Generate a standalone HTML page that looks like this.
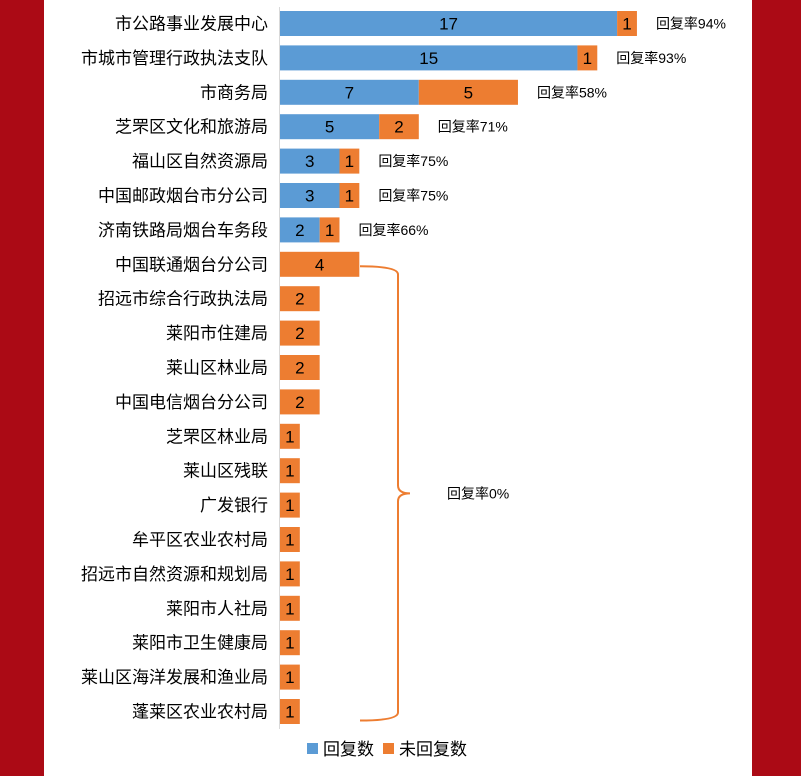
<!DOCTYPE html>
<html><head><meta charset="utf-8">
<style>
body{margin:0;width:801px;height:776px;overflow:hidden;background:#fff;font-family:"Liberation Sans","Noto Sans CJK SC",sans-serif;}
#wrap{position:relative;width:801px;height:776px;}
</style></head><body>
<div id="wrap">
<div style="position:absolute;left:0;top:0;width:44px;height:776px;background:#ab0a15"></div>
<div style="position:absolute;left:752px;top:0;width:49px;height:776px;background:#ab0a15"></div>
<svg id="chart" width="801" height="776" style="position:absolute;left:0;top:0"></svg>
</div>
<script>
const categories=["市公路事业发展中心","市城市管理行政执法支队","市商务局","芝罘区文化和旅游局","福山区自然资源局","中国邮政烟台市分公司","济南铁路局烟台车务段","中国联通烟台分公司","招远市综合行政执法局","莱阳市住建局","莱山区林业局","中国电信烟台分公司","芝罘区林业局","莱山区残联","广发银行","牟平区农业农村局","招远市自然资源和规划局","莱阳市人社局","莱阳市卫生健康局","莱山区海洋发展和渔业局","蓬莱区农业农村局"];
const replied=[17,15,7,5,3,3,2,0,0,0,0,0,0,0,0,0,0,0,0,0,0];
const unreplied=[1,1,5,2,1,1,1,4,2,2,2,2,1,1,1,1,1,1,1,1,1];
const rateLabels=["回复率94%","回复率93%","回复率58%","回复率71%","回复率75%","回复率75%","回复率66%"];
const zeroLabel="回复率0%";
const NS="http://www.w3.org/2000/svg";
const svg=document.getElementById('chart');
const x0=280,unit=19.83,y0=23.5,pitch=34.4,bh=25;
const xs=v=>x0+v*unit;
const yc=i=>y0+i*pitch;
function mk(t,a){const e=document.createElementNS(NS,t);for(const k in a)e.setAttribute(k,a[k]);svg.appendChild(e);return e;}
const ax=mk('line',{x1:279.5,x2:279.5,y1:7,y2:729,stroke:'#d9d9d9','stroke-width':1});


categories.forEach((c,i)=>{
  const t=mk('text',{x:268,y:yc(i)+6,'text-anchor':'end','font-size':17,fill:'#000'});
  t.textContent=c;
  
  
  if(replied[i]>0){
    const r=mk('rect',{x:xs(0),y:yc(i)-bh/2,width:xs(replied[i])-xs(0),height:bh,fill:'#5b9bd5'});
    
    
    const v=mk('text',{x:(xs(0)+xs(replied[i]))/2,y:yc(i)+6,'text-anchor':'middle','font-size':17,fill:'#000'});
    v.textContent=replied[i];
    
    
  }
  const s=replied[i],e=replied[i]+unreplied[i];
  const r2=mk('rect',{x:xs(s),y:yc(i)-bh/2,width:xs(e)-xs(s),height:bh,fill:'#ed7d31'});
  
  
  const v2=mk('text',{x:(xs(s)+xs(e))/2,y:yc(i)+6,'text-anchor':'middle','font-size':17,fill:'#000'});
  v2.textContent=unreplied[i];
  
  
  if(i<rateLabels.length){
    const rl=mk('text',{x:xs(e)+19,y:yc(i)+5,'font-size':14,fill:'#000'});
    rl.textContent=rateLabels[i];
    
    
  }
});
const first=rateLabels.length,last=categories.length-1;
const yt=yc(first)+2,yb=yc(last)+9,ym=(yt+yb)/2,bx=398;
const br=mk('path',{d:`M360 ${yt} Q${bx} ${yt} ${bx} ${yt+8} L${bx} ${ym-8} Q${bx} ${ym} 410 ${ym} Q${bx} ${ym} ${bx} ${ym+8} L${bx} ${yb-8} Q${bx} ${yb} 360 ${yb}`,fill:'none',stroke:'#ed7d31','stroke-width':2});


const zl=mk('text',{x:447,y:ym+5,'font-size':14,fill:'#000'});
zl.textContent=zeroLabel;


const l1=mk('rect',{x:307,y:743,width:11,height:11,fill:'#5b9bd5'});


const lt1=mk('text',{x:323,y:755,'font-size':17,fill:'#000'});
lt1.textContent='回复数';


const l2=mk('rect',{x:383,y:743,width:11,height:11,fill:'#ed7d31'});


const lt2=mk('text',{x:399,y:755,'font-size':17,fill:'#000'});
lt2.textContent='未回复数';


</script>
</body></html>
